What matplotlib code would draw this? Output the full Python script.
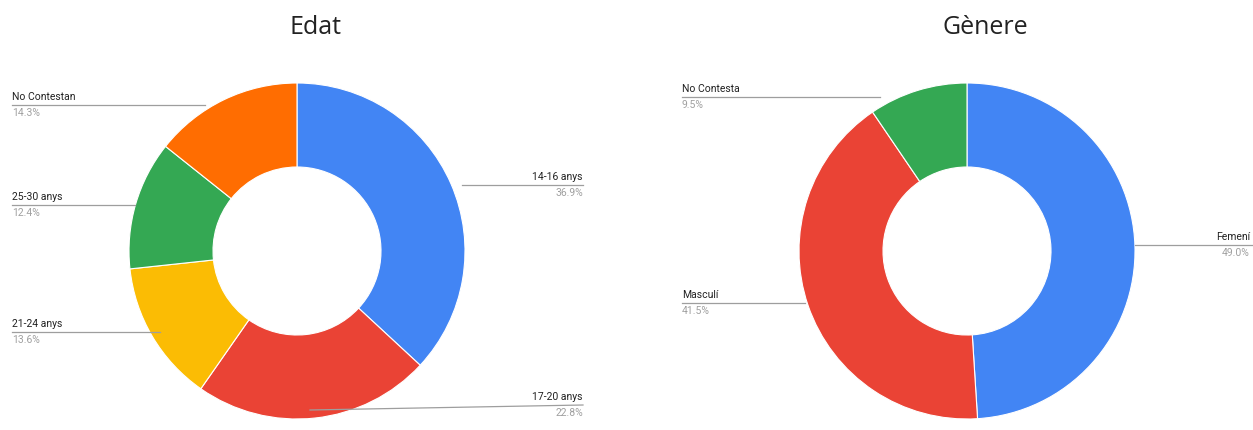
import matplotlib
matplotlib.use("Agg")
import matplotlib.pyplot as plt

W, H = 1253, 430

# Data
age_labels = ["14-16 anys", "17-20 anys", "21-24 anys", "25-30 anys", "No Contestan"]
age_values = [36.9, 22.8, 13.6, 12.4, 14.3]
age_colors = ["#4285F4", "#EA4335", "#FBBC04", "#34A853", "#FF6D01"]

gen_labels = ["Femení", "Masculí", "No Contesta"]
gen_values = [49.0, 41.5, 9.5]
gen_colors = ["#4285F4", "#EA4335", "#34A853"]

fig = plt.figure(figsize=(W / 100, H / 100), dpi=100)
plt.rcParams['font.family'] = ['Roboto', 'DejaVu Sans']

R = 168

def make_ax(cx, cy):
    ax = fig.add_axes([(cx - R) / W, (H - cy - R) / H, 2 * R / W, 2 * R / H])
    ax.set_xlim(-1, 1)
    ax.set_ylim(-1, 1)
    ax.set_aspect('equal')
    ax.axis('off')
    return ax

def pie(ax, vals, cols):
    ax.pie(vals, colors=cols, startangle=90, counterclock=False, radius=1,
           wedgeprops=dict(width=0.5, edgecolor='white', linewidth=0.8))
    ax.set_xlim(-1, 1)
    ax.set_ylim(-1, 1)

def label(ax, cx, cy, text, pct, anchor_px, line_y_px, text_x_px, side, end_y_px=None, line_end_px=None):
    ax_x = (anchor_px[0] - cx) / R
    ax_y = (cy - anchor_px[1]) / R
    if end_y_px is None:
        end_y_px = line_y_px
    if line_end_px is None:
        line_end_px = text_x_px
    ex = (text_x_px - cx) / R
    lx = (line_end_px - cx) / R
    ey = (cy - end_y_px) / R
    ax.plot([ax_x, lx], [ax_y, ey], color="#9e9e9e", lw=0.9, clip_on=False)
    ha = 'left' if side == 'left' else 'right'
    ax.text(ex, ey + 3 / R, text, ha=ha, va='bottom', fontsize=7.5, color="#222222", clip_on=False)
    ax.text(ex, ey - 3 / R, pct, ha=ha, va='top', fontsize=7.5, color="#a0a0a0", clip_on=False)

# Left chart: Edat
cx1, cy1 = 297, 251
ax1 = make_ax(cx1, cy1)
pie(ax1, age_values, age_colors)
pcts1 = ["%.1f%%" % v for v in age_values]
label(ax1, cx1, cy1, age_labels[0], pcts1[0], (462, 185), 185, 583, 'right')
label(ax1, cx1, cy1, age_labels[1], pcts1[1], (310, 410), 405, 583, 'right')
label(ax1, cx1, cy1, age_labels[2], pcts1[2], (160, 332), 332, 12, 'left')
label(ax1, cx1, cy1, age_labels[3], pcts1[3], (135, 205), 205, 12, 'left')
label(ax1, cx1, cy1, age_labels[4], pcts1[4], (205, 105), 105, 12, 'left')
fig.text(315 / W, 1 - 27 / H, "Edat", ha='center', va='center', fontsize=18,
         color="#222222", family=['Open Sans', 'DejaVu Sans'])

# Right chart: Gènere
cx2, cy2 = 967, 251
ax2 = make_ax(cx2, cy2)
pie(ax2, gen_values, gen_colors)
pcts2 = ["%.1f%%" % v for v in gen_values]
label(ax2, cx2, cy2, gen_labels[0], pcts2[0], (1135, 245), 245, 1250, 'right', line_end_px=1253)
label(ax2, cx2, cy2, gen_labels[1], pcts2[1], (805, 303), 303, 682, 'left')
label(ax2, cx2, cy2, gen_labels[2], pcts2[2], (880, 97), 97, 682, 'left')
fig.text(985 / W, 1 - 27 / H, "Gènere", ha='center', va='center', fontsize=18,
         color="#222222", family=['Open Sans', 'DejaVu Sans'])

fig.savefig("out.png", dpi=100, facecolor='white')
